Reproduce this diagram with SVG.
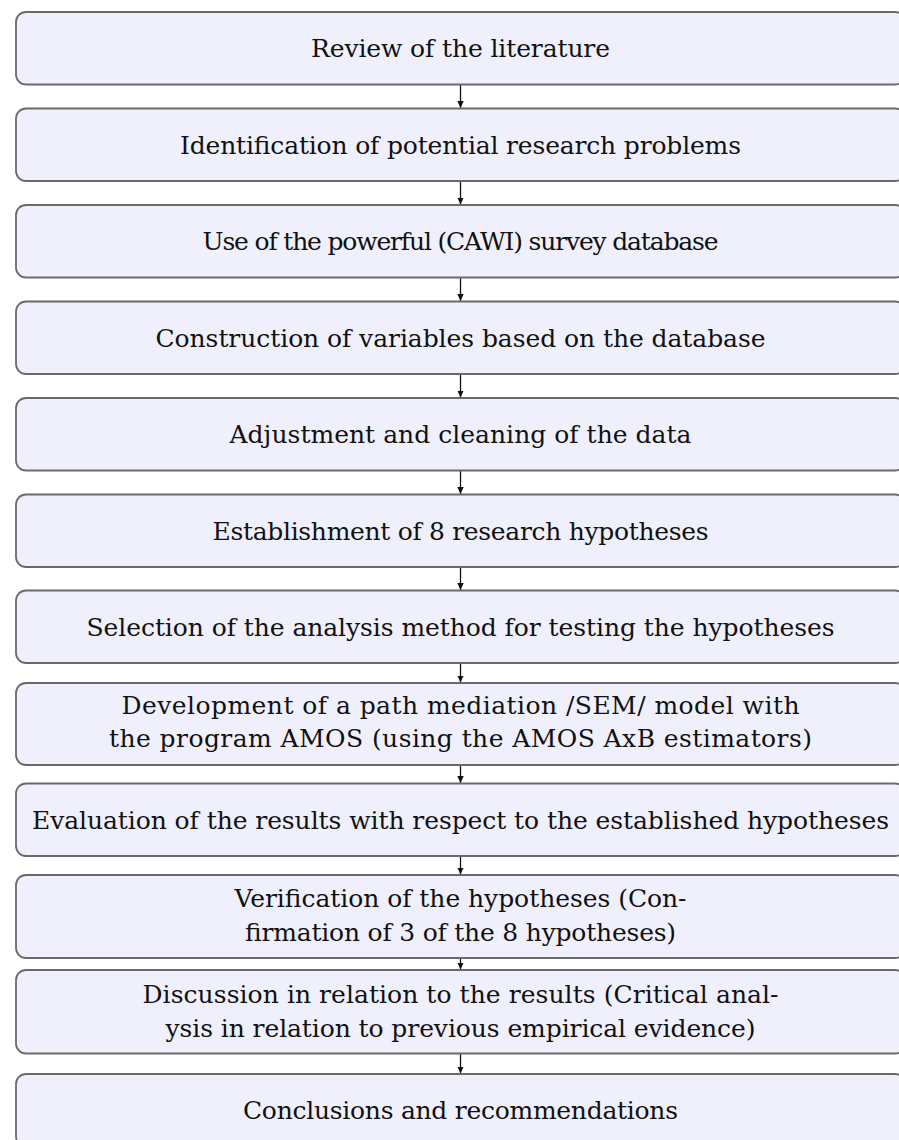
<svg xmlns="http://www.w3.org/2000/svg" width="899" height="1140" viewBox="0 0 899 1140">
<style>
.box{fill:#f0f0fc;stroke:#6a6a6a;stroke-width:1.8}
.t{font-family:"DejaVu Serif","Liberation Serif",serif;font-size:25px;fill:#111;text-anchor:middle}
.c{stroke:#111;stroke-width:1.3;fill:none}
</style>
<defs>
<marker id="ah" markerWidth="8" markerHeight="8" refX="7" refY="4" orient="auto" markerUnits="userSpaceOnUse">
<path d="M0,0.8 L7,4 L0,7.2 Z" fill="#111"/>
</marker>
</defs>
<rect width="899" height="1140" fill="#fff"/>
<g id="connectors">
<line class="c" x1="460.5" y1="84.5" x2="460.5" y2="108" marker-end="url(#ah)"/>
<line class="c" x1="460.5" y1="181" x2="460.5" y2="204.5" marker-end="url(#ah)"/>
<line class="c" x1="460.5" y1="277.5" x2="460.5" y2="301" marker-end="url(#ah)"/>
<line class="c" x1="460.5" y1="374" x2="460.5" y2="397.5" marker-end="url(#ah)"/>
<line class="c" x1="460.5" y1="470.5" x2="460.5" y2="494" marker-end="url(#ah)"/>
<line class="c" x1="460.5" y1="567" x2="460.5" y2="590" marker-end="url(#ah)"/>
<line class="c" x1="460.5" y1="663" x2="460.5" y2="682.5" marker-end="url(#ah)"/>
<line class="c" x1="460.5" y1="765" x2="460.5" y2="783" marker-end="url(#ah)"/>
<line class="c" x1="460.5" y1="856" x2="460.5" y2="874.5" marker-end="url(#ah)"/>
<line class="c" x1="460.5" y1="958" x2="460.5" y2="969.5" marker-end="url(#ah)"/>
<line class="c" x1="460.5" y1="1053.5" x2="460.5" y2="1073.5" marker-end="url(#ah)"/>
</g>
<g id="n1"><rect class="box" x="16" y="12" width="889" height="72.5" rx="10"/><text class="t" x="460.5" y="57" textLength="299">Review of the literature</text></g>
<g id="n2"><rect class="box" x="16" y="108.5" width="889" height="72.5" rx="10"/><text class="t" x="460.5" y="153.5" textLength="561">Identification of potential research problems</text></g>
<g id="n3"><rect class="box" x="16" y="205" width="889" height="72.5" rx="10"/><text class="t" x="460.5" y="250" textLength="516">Use of the powerful (CAWI) survey database</text></g>
<g id="n4"><rect class="box" x="16" y="301.5" width="889" height="72.5" rx="10"/><text class="t" x="460.5" y="346.5" textLength="610">Construction of variables based on the database</text></g>
<g id="n5"><rect class="box" x="16" y="398" width="889" height="72.5" rx="10"/><text class="t" x="460.5" y="443" textLength="462">Adjustment and cleaning of the data</text></g>
<g id="n6"><rect class="box" x="16" y="494.5" width="889" height="72.5" rx="10"/><text class="t" x="460.5" y="539.5" textLength="496">Establishment of 8 research hypotheses</text></g>
<g id="n7"><rect class="box" x="16" y="590.5" width="889" height="72.5" rx="10"/><text class="t" x="460.5" y="635.5" textLength="748">Selection of the analysis method for testing the hypotheses</text></g>
<g id="n8"><rect class="box" x="16" y="683" width="889" height="82" rx="10"/><text class="t" x="460.5" y="714" textLength="678">Development of a path mediation /SEM/ model with</text><text class="t" x="460.5" y="747" textLength="703">the program AMOS (using the AMOS AxB estimators)</text></g>
<g id="n9"><rect class="box" x="16" y="783.5" width="889" height="72.5" rx="10"/><text class="t" x="460.5" y="828.5" textLength="857">Evaluation of the results with respect to the established hypotheses</text></g>
<g id="n10"><rect class="box" x="16" y="875" width="889" height="83" rx="10"/><text class="t" x="460.5" y="907" textLength="452">Verification of the hypotheses (Con-</text><text class="t" x="460.5" y="941" textLength="431">firmation of 3 of the 8 hypotheses)</text></g>
<g id="n11"><rect class="box" x="16" y="970" width="889" height="83.5" rx="10"/><text class="t" x="460.5" y="1003" textLength="636">Discussion in relation to the results (Critical anal-</text><text class="t" x="460.5" y="1037" textLength="590">ysis in relation to previous empirical evidence)</text></g>
<g id="n12"><rect class="box" x="16" y="1074" width="889" height="72.5" rx="10"/><text class="t" x="460.5" y="1119" textLength="435">Conclusions and recommendations</text></g>
</svg>
